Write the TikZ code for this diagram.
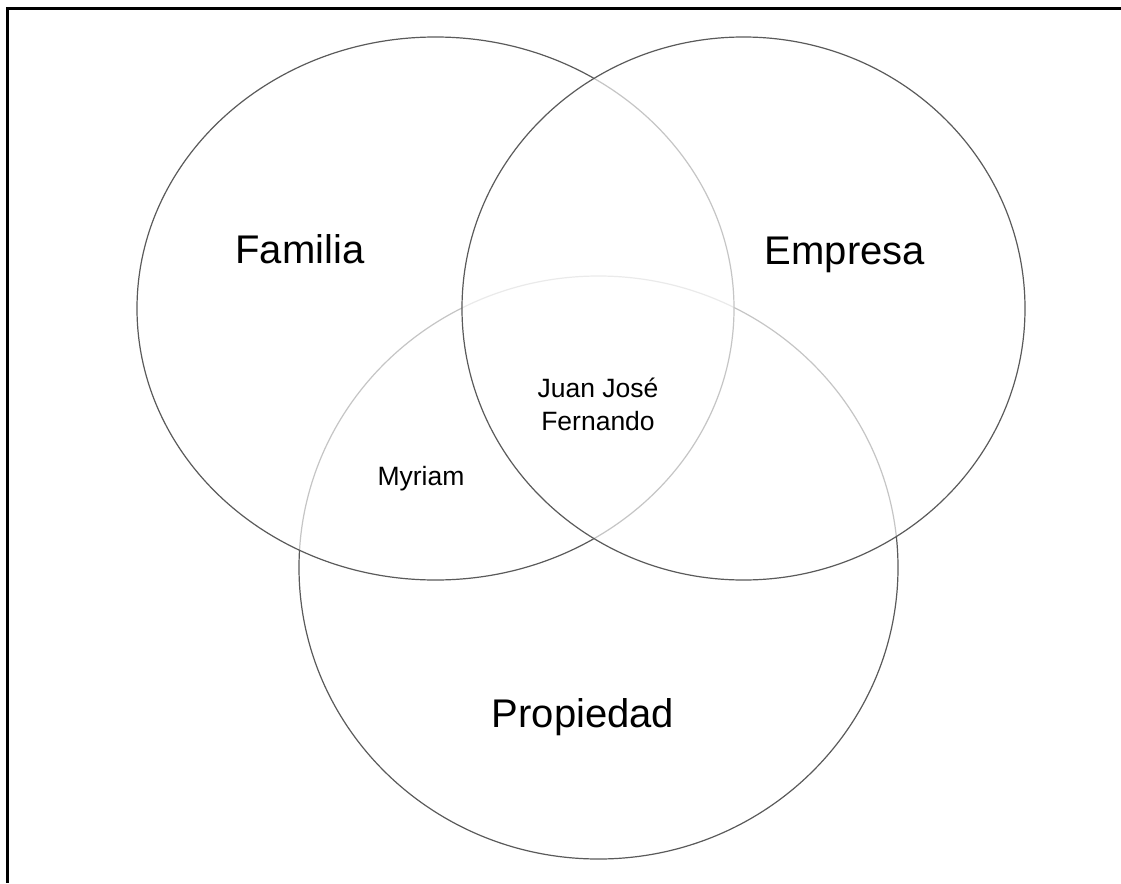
\documentclass[tikz,border=0pt]{standalone}
\usepackage{fontspec}
\setmainfont{Liberation Sans}
\usetikzlibrary{shapes.geometric, positioning}
\definecolor{rimgray}{RGB}{90,90,90}
\tikzstyle{set} = [ellipse,
			draw = rimgray,
			line width = 1.2pt,
			fill = white,
			fill opacity = 0.65,
			inner sep = 0pt]
\tikzstyle{bigname} = [anchor = base,
			font = \fontsize{40}{48}\selectfont]
\tikzstyle{member} = [align = center,
			font = \fontsize{26.5}{33}\selectfont]
\tikzstyle{frame} = [line width = 3pt, black]

\begin{document}
\begin{tikzpicture}[x = 1pt, y = -1pt]
	\useasboundingbox (0,0) rectangle (1121,883);
	\draw [frame] (1121,9) -| (7,883);
	% the three sets, back to front
	\node [set, minimum width = 599pt, minimum height = 583pt] (propiedad) at (598.5,567.5) {};
	\node [set, minimum width = 597pt, minimum height = 543pt] (familia) at (435.5,308.5) {};
	\node [set, minimum width = 563pt, minimum height = 543pt] (empresa) at (743.5,308.5) {};
	% names
	\node [bigname] (familianame) at (300,263) {Familia};
	\node [bigname] (empresaname) at (845,264) {Empresa};
	\node [bigname] (propiedadname) at (583,727) {Propiedad};
	% people
	\node [member] (juan) at (598,404) {Juan José\\Fernando};
	\node [member] (myriam) at (421,479) {Myriam};
\end{tikzpicture}
\end{document}
